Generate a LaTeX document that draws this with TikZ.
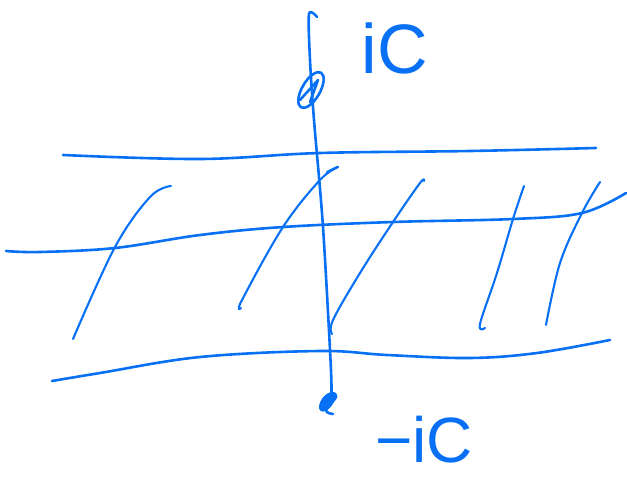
\documentclass[tikz,border=0pt]{standalone}
\usepackage{fontspec}
\setmainfont{Liberation Sans}
\definecolor{ink}{RGB}{8,112,245}
\begin{document}
\begin{tikzpicture}[x=1pt,y=-1pt,
  pen/.style={draw=ink,line width=2.6pt,line cap=round,line join=round},
  thinpen/.style={draw=ink,line width=2.1pt,line cap=round,line join=round},
  lbl/.style={text=ink,anchor=base,inner sep=0pt}]
\useasboundingbox (0,0) rectangle (627,479);
% horizontal lines
\draw[pen] plot[smooth,tension=0.6] coordinates {(63,155) (200,159) (320,153) (470,151) (596,148)};
\draw[pen] plot[smooth,tension=0.6] coordinates {(6,251) (40,252) (115,248) (200,235) (283,227) (393,222) (513,219) (582,213) (626,193)};
\draw[pen] plot[smooth,tension=0.6] coordinates {(52,381) (100,373) (200,357) (320,351) (387,355) (470,358) (537,353) (610,340)};
% hatches
\draw[thinpen] plot[smooth,tension=0.6] coordinates {(171,186) (150,197) (115,247) (73,339)};
\draw[thinpen] plot[smooth,tension=0.6] coordinates {(327,172) (338,167) (320,180) (283,227) (242,300) (241,308)};
\draw[thinpen] plot[smooth,tension=0.6] coordinates {(424,181) (420,183) (393,222) (360,273) (333,320) (332,334)};
\draw[thinpen] plot[smooth,tension=0.6] coordinates {(524,186) (513,219) (497,273) (480,324) (485,328)};
\draw[thinpen] plot[smooth,tension=0.6] coordinates {(600,182) (582,213) (560,263) (546,325)};
% vertical axis
\draw[pen] plot[smooth,tension=0.5] coordinates {(317,17) (309,14) (310,60) (314,120) (323,227) (331,370) (331,400)};
% top scribble
\draw[pen,rotate around={60:(311,90)}] (311,90) ellipse (20 and 9);
\draw[pen] (300,100) -- (318,80) -- (310,102);
% bottom blob
\fill[ink,rotate around={55:(327,402)}] (327,402) ellipse (11 and 6);
\draw[pen] plot[smooth,tension=0.7] coordinates {(321,408) (330,394) (336,397) (326,410) (333,414)};
% labels
\node[lbl,font=\fontsize{70}{70}\selectfont] (top) at (395,73) {iC};
\node[lbl,font=\fontsize{64}{64}\selectfont] (bot) at (424,462) {−iC};
\end{tikzpicture}
\end{document}
